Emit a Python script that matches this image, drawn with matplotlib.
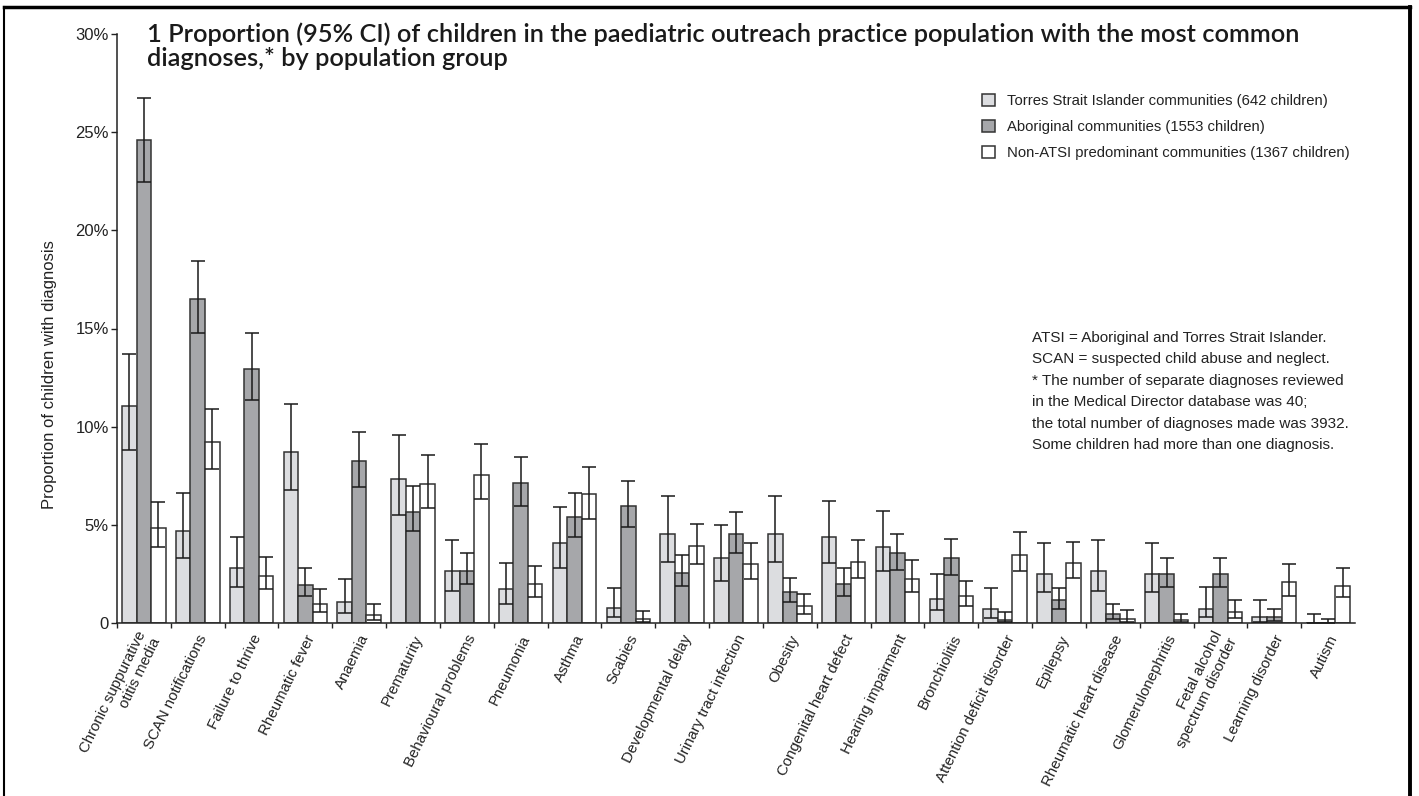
import matplotlib
matplotlib.use('Agg')
import matplotlib.pyplot as plt
import matplotlib.transforms as mtransforms
import numpy as np
from matplotlib.patches import Patch
from matplotlib.lines import Line2D

# Data (percent of children, 95% CI)
categories = ["Chronic suppurative\notitis media", "SCAN notifications", "Failure to thrive",
              "Rheumatic fever", "Anaemia", "Prematurity", "Behavioural problems", "Pneumonia",
              "Asthma", "Scabies", "Developmental delay", "Urinary tract infection", "Obesity",
              "Congenital heart defect", "Hearing impairment", "Bronchiolitis",
              "Attention deficit disorder", "Epilepsy", "Rheumatic heart disease",
              "Glomerulonephritis", "Fetal alcohol\nspectrum disorder", "Learning disorder", "Autism"]

torres    = [11.05, 4.69, 2.80, 8.73, 1.05, 7.35, 2.64, 1.73, 4.06, 0.74, 4.55, 3.30,
             4.55, 4.38, 3.88, 1.23, 0.72, 2.48, 2.64, 2.48, 0.72, 0.31, 0.0]
torres_lo = [8.82, 3.31, 1.82, 6.76, 0.49, 5.51, 1.63, 0.98, 2.81, 0.31, 3.13, 2.14,
             3.13, 3.06, 2.64, 0.65, 0.26, 1.56, 1.64, 1.57, 0.29, 0.05, 0.0]
torres_hi = [13.69, 6.60, 4.38, 11.13, 2.22, 9.56, 4.21, 3.06, 5.89, 1.80, 6.47, 4.98,
             6.47, 6.21, 5.72, 2.48, 1.80, 4.06, 4.21, 4.06, 1.81, 1.15, 0.48]

abor    = [24.58, 16.51, 12.96, 1.96, 8.24, 5.67, 2.64, 7.14, 5.39, 5.97, 2.57, 4.55,
           1.56, 1.97, 3.56, 3.30, 0.14, 1.15, 0.46, 2.48, 2.48, 0.31, 0.0]
abor_lo = [22.44, 14.76, 11.38, 1.38, 6.93, 4.69, 1.98, 5.95, 4.40, 4.89, 1.88, 3.56,
           1.06, 1.39, 2.72, 2.46, 0.03, 0.72, 0.21, 1.81, 1.81, 0.10, 0.0]
abor_hi = [26.75, 18.45, 14.76, 2.80, 9.73, 7.00, 3.54, 8.47, 6.62, 7.22, 3.47, 5.63,
           2.31, 2.81, 4.55, 4.30, 0.56, 1.80, 0.98, 3.30, 3.30, 0.72, 0.22]

non    = [4.85, 9.24, 2.38, 0.98, 0.40, 7.09, 7.55, 1.98, 6.55, 0.22, 3.90, 2.99,
          0.89, 3.13, 2.22, 1.39, 3.47, 3.05, 0.21, 0.17, 0.56, 2.07, 1.90]
non_lo = [3.87, 7.84, 1.73, 0.56, 0.15, 5.85, 6.31, 1.30, 5.30, 0.07, 2.98, 2.22,
          0.46, 2.29, 1.56, 0.89, 2.64, 2.29, 0.05, 0.03, 0.27, 1.39, 1.30]
non_hi = [6.18, 10.89, 3.38, 1.73, 0.98, 8.56, 9.14, 2.89, 7.97, 0.63, 5.05, 4.06,
          1.47, 4.21, 3.22, 2.14, 4.62, 4.12, 0.65, 0.48, 1.15, 2.98, 2.81]

series_labels = ["Torres Strait Islander communities (642 children)",
                 "Aboriginal communities (1553 children)",
                 "Non-ATSI predominant communities (1367 children)"]
colours = ['#dcdde0', '#a6a7aa', '#ffffff']

yticks = [0, 5, 10, 15, 20, 25, 30]
ytick_labels = ['0', '5%', '10%', '15%', '20%', '25%', '30%']

notes = ("ATSI = Aboriginal and Torres Strait Islander.\n"
         "SCAN = suspected child abuse and neglect.\n"
         "* The number of separate diagnoses reviewed\n"
         "in the Medical Director database was 40;\n"
         "the total number of diagnoses made was 3932.\n"
         "Some children had more than one diagnosis.")

title = ("1 Proportion (95% CI) of children in the paediatric outreach practice population with the most common\n"
         "diagnoses,* by population group")

plt.rcParams['font.family'] = ['Liberation Sans', 'DejaVu Sans']

W, H = 1419, 796
fig = plt.figure(figsize=(W / 100, H / 100), dpi=100)
ax = fig.add_axes([117 / W, 1 - 623 / H, (1355 - 117) / W, (623 - 34) / H])

x = np.arange(len(categories))
bw = 0.27
edge = '#333333'
groups = [(torres, torres_lo, torres_hi), (abor, abor_lo, abor_hi), (non, non_lo, non_hi)]
for k, (vals, lo, hi) in enumerate(groups):
    vals = np.array(vals)
    err = np.vstack([vals - np.array(lo), np.array(hi) - vals])
    pos = x + (k - 1) * bw
    ax.bar(pos, vals, width=bw, color=colours[k], edgecolor=edge, linewidth=1.1, zorder=2)
    ax.errorbar(pos, vals, yerr=err, fmt='none', ecolor='#1a1a1a', elinewidth=1.1,
                capsize=4.8, capthick=1.1, zorder=3)

ax.set_xlim(-0.5, len(categories) - 0.5)
ax.set_ylim(0, 30)
ax.set_yticks(yticks)
ax.set_yticklabels(ytick_labels)
ax.set_xticks(x)
ax.set_xticklabels(categories, rotation=64, ha='right', va='center',
                   rotation_mode='anchor', multialignment='right')
ax.set_xticks(np.arange(len(categories)) - 0.5, minor=True)
ax.tick_params(axis='x', which='major', length=0, pad=9, labelsize=10.8, labelcolor='#222222')
ax.tick_params(axis='x', which='minor', length=3.5, width=1.0, color='#222222')
ax.tick_params(axis='y', length=4, width=1.0, pad=2, labelsize=12, labelcolor='#222222',
               color='#222222')
shift = mtransforms.ScaledTranslation(6 / 100, 0, fig.dpi_scale_trans)
for lab in ax.get_xticklabels():
    lab.set_transform(lab.get_transform() + shift)
for s in ['top', 'right']:
    ax.spines[s].set_visible(False)
for s in ['left', 'bottom']:
    ax.spines[s].set_linewidth(1.1)
    ax.spines[s].set_color('#222222')

fig.text(50 / W, 1 - 375 / H, 'Proportion of children with diagnosis', rotation=90,
         ha='center', va='center', fontsize=12, color='#222222')

fig.text(147 / W, 1 - 22 / H, title, ha='left', va='top', fontsize=18.3, fontweight='semibold',
         family=['Lato', 'DejaVu Sans'], color='#1a1a1a', linespacing=1.1)

handles = [Patch(facecolor=c, edgecolor=edge, linewidth=1.1) for c in colours]
fig.legend(handles, series_labels, loc='upper left', bbox_to_anchor=(982 / W, 1 - 94 / H),
           bbox_transform=fig.transFigure, frameon=False, fontsize=10.7, handlelength=0.87,
           handleheight=0.87, handletextpad=0.8, labelspacing=0.8, borderpad=0,
           borderaxespad=0, labelcolor='#222222')

fig.text(1032 / W, 1 - 331 / H, notes, ha='left', va='top', fontsize=11, color='#222222',
         linespacing=1.68)

# frame around the figure (top, left, right)
fig.add_artist(Line2D([4 / W, 4 / W], [0, 1 - 7 / H], transform=fig.transFigure,
                      color='black', linewidth=1.5))
fig.add_artist(Line2D([4 / W, 1410 / W], [1 - 7 / H, 1 - 7 / H], transform=fig.transFigure,
                      color='black', linewidth=2.5))
fig.add_artist(Line2D([1410 / W, 1410 / W], [0, 1 - 7 / H], transform=fig.transFigure,
                      color='black', linewidth=2.8))

fig.savefig('out.png', dpi=100)
